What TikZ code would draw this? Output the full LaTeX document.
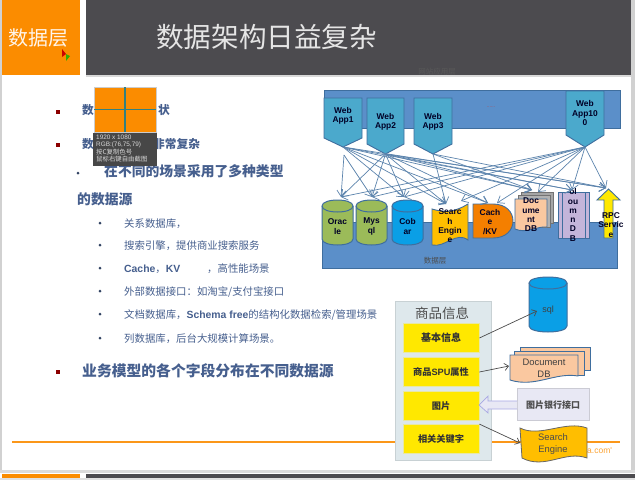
\documentclass[tikz,border=0pt]{standalone}
\usepackage{fontspec}
\setmainfont{Noto Sans CJK SC}
\newfontfamily\lat{Liberation Sans}
\usetikzlibrary{arrows.meta,calc}
\definecolor{hdr}{HTML}{4C4B4F}
\definecolor{org}{HTML}{FB8C00}
\definecolor{txt}{HTML}{465F8E}
\definecolor{bandc}{HTML}{5B8FC9}
\definecolor{edge}{HTML}{3F6E9E}
\definecolor{appc}{HTML}{4BA9CC}
\definecolor{grn}{HTML}{9BBB59}
\definecolor{cob}{HTML}{0A9FE6}
\definecolor{srch}{HTML}{FFBE00}
\definecolor{cachec}{HTML}{F47F00}
\definecolor{peach}{HTML}{FAC8A0}
\definecolor{lav}{HTML}{C4B5DA}
\definecolor{panel}{HTML}{DEE8EC}
\definecolor{yel}{HTML}{FFE800}
\definecolor{lavl}{HTML}{E8E8F4}
\tikzset{
  l1/.style={anchor=west,inner sep=0pt,text=txt,font=\bfseries\fontsize{13.8}{16}\selectfont},
  l1s/.style={anchor=west,inner sep=0pt,text=txt,font=\bfseries\fontsize{11.7}{15}\selectfont},
  l3/.style={anchor=west,inner sep=0pt,text=txt,font=\fontsize{10.4}{13}\selectfont},
  app/.style={draw=edge,line width=.9pt,fill=appc},
  lab/.style={align=center,inner sep=0pt,font=\lat\bfseries\fontsize{8.4}{9.3}\selectfont,text=black!85!blue},
  flow/.style={draw=edge!85!white,line width=.7pt,-{Straight Barb[length=6pt,width=9pt]}},
  blk/.style={draw=black!70,line width=.7pt,-{Straight Barb[length=4pt,width=7pt]}},
  ylbox/.style={draw=panel!70!yel,line width=.8pt,fill=yel,minimum width=76pt,minimum height=29pt,inner sep=0pt,font=\bfseries\fontsize{10}{12}\selectfont,text=black!80},
  tip/.style={inner sep=0pt,anchor=west,text=white!85!black,font=\fontsize{6.4}{7}\selectfont},
  sbul/.style={fill=red!55!black,minimum size=4pt,inner sep=0pt},
  dbul/.style={circle,fill=txt!70!black,minimum size=3pt,inner sep=0pt}
}
% name, x1, x2, y top, shoulder y, tip y, label
\newcommand{\appshape}[7]{%
  \draw[app] (#2,#4) -- (#3,#4) -- (#3,#5) -- ({(#2+#3)/2},#6) -- (#2,#5) -- cycle;
  \coordinate (#1-tip) at ({(#2+#3)/2},#6);
  \node[lab] (#1) at ({(#2+#3)/2},{#5-22}) {#7};}
% name, x1, x2, y1, y2, fill, label
\newcommand{\cyl}[7]{%
  \draw[edge,line width=1pt,fill=#6] (#2,{#4+6}) -- (#2,{#5-6}) .. controls (#2,{#5+2}) and (#3,{#5+2}) .. (#3,{#5-6})
     -- (#3,{#4+6}) .. controls (#3,{#4-2}) and (#2,{#4-2}) .. (#2,{#4+6}) -- cycle;
  \draw[edge,line width=1pt] (#2,{#4+6}) .. controls (#2,{#4+14}) and (#3,{#4+14}) .. (#3,{#4+6});
  \node[lab] (#1) at ({(#2+#3)/2},{(#4+#5)/2+4}) {#7};}
\begin{document}
\begin{tikzpicture}[x=1pt,y=-1pt]
\useasboundingbox (0,0) rectangle (635,480);
\fill[white] (0,0) rectangle (635,480);
\fill[black!18] (0,0) rectangle (2,470);
\fill[black!18] (631,0) rectangle (635,470);
\fill[black!14] (0,470) rectangle (635,473);
\fill[black!12] (0,478) rectangle (635,480);
% header
\fill[org] (2,0) rectangle (80,75);
\fill[hdr] (86,0) rectangle (631,75);
\fill[black!15] (86,75) rectangle (631,77);
\node[inner sep=0pt,text=white!92!orange,font=\fontsize{20}{24}\selectfont] (side) at (39,38) {数据层};
\node[inner sep=0pt,anchor=west,text=white!90!black,font=\fontsize{27.6}{32}\selectfont] (title) at (156,37) {数据架构日益复杂};
\fill[red!80!black] (62,49) -- (62,57) -- (66,54) -- cycle;
\fill[green!60!black!80!yellow] (66,54) -- (70,56) -- (66,61) -- cycle;
% bullets
\node[sbul] (b1) at (58,112) {};
\node[sbul] (b2) at (58,145) {};
\node[sbul] (b3) at (58,372) {};
\node[l1s] (t1a) at (82,110.5) {数};
\node[l1s] (t1b) at (158,110.5) {状};
\node[l1s] (t2a) at (82,144.5) {数};
\node[l1s] (t2b) at (153,144.5) {非常复杂};
\node[dbul] (d0) at (78,173) {};
\node[l1] (t3) at (104,171) {在不同的场景采用了多种类型};
\node[l1] (t4) at (77,199) {的数据源};
\foreach \n/\y in {a/223,b/245,c/268,d/291,e/314,f/338}{\node[dbul] (d\n) at (100,\y) {};}
\node[l3] (s1) at (124,224) {关系数据库，};
\node[l3] (s2) at (124,246) {搜索引擎，提供商业搜索服务};
\node[l3] (s3) at (124,269) {{\lat\bfseries Cache}，{\lat\bfseries KV}};
\node[l3] (s3b) at (207,269) {，高性能场景};
\node[l3] (s4) at (124,292) {外部数据接口：如淘宝/支付宝接口};
\node[l3] (s5) at (124,315) {文档数据库，{\lat\bfseries Schema free}的结构化数据检索/管理场景};
\node[l3] (s6) at (124,339) {列数据库，后台大规模计算场景。};
\node[l1,font=\bfseries\fontsize{14.8}{17}\selectfont] (t5) at (82,371) {业务模型的各个字段分布在不同数据源};
% tooltip
\fill[org] (94,87) rectangle (156,132);
\draw[black!20,line width=.6pt] (94,87) rectangle (156,132);
\draw[teal!60!gray,line width=1.2pt] (125,87) -- (125,132) (94,109.5) -- (156,109.5);
\fill[black!72] (93,133) rectangle (157,166);
\node[tip] (c1) at (96,137.5) {{\lat 1920 x 1080}};
\node[tip] (c2) at (96,144.5) {{\lat RGB:(76,75,79)}};
\node[tip] (c3) at (96,152) {按C复制色号};
\node[tip] (c4) at (96,159.5) {鼠标右键自由截图};
% architecture
\draw[edge,line width=.8pt,fill=bandc] (324,90) rectangle (620,128);
\draw[edge,line width=.8pt,fill=bandc] (322,222) rectangle (617,268);
\node[inner sep=0pt,text=black!65,font=\fontsize{7.5}{9}\selectfont] (lt) at (437,72) {网站应用层};
\node[inner sep=0pt,text=black!70,font=\fontsize{7.5}{9}\selectfont] (ld) at (435,261) {数据层};
\node[inner sep=0pt,text=red!50!gray,font=\fontsize{5}{6}\selectfont] (ldots) at (491,107) {......};
\appshape{app1}{324}{362}{98}{138}{147}{Web\\App1}
\appshape{app2}{367}{404}{98}{144}{154}{Web\\App2}
\appshape{app3}{414}{452}{98}{144}{154}{Web\\App3}
\appshape{app100}{566}{604}{91}{135}{147}{Web\\App10\\0}
\cyl{oracle}{322}{353}{200}{245}{grn}{Orac\\le}
\cyl{mysql}{356}{387}{200}{245}{grn}{Mys\\ql}
\cyl{cobar}{392}{423}{200}{245}{cob}{Cob\\ar}
% search engine
\draw[edge,line width=.9pt,fill=srch] (432,209) .. controls (445,213) and (455,212) .. (468,204) -- (468,240) .. controls (456,231) and (445,248) .. (432,245) -- cycle;
\node[lab] (search) at (450,226) {Searc\\h\\Engin\\e};
% cache
\draw[edge,line width=.9pt,fill=cachec] (473,204) -- (493,204) .. controls (506,204) and (513,212) .. (513,221) .. controls (513,230) and (506,238) .. (493,238) -- (473,238) -- cycle;
\node[lab] (cache) at (490,222) {Cach\\e\\/KV};
% document
\draw[black!55,line width=.8pt,fill=black!35] (521,192) rectangle (553,223);
\draw[black!55,line width=.8pt,fill=black!30] (518,195) rectangle (550,227);
\draw[edge,line width=.9pt,fill=peach] (515,199) -- (547,199) -- (547,227) .. controls (537,226) and (526,234) .. (515,229) -- cycle;
\node[lab] (doc) at (531,215) {Doc\\ume\\nt\\DB};
% column db
\draw[edge,line width=.9pt,fill=lav] (558,192) rectangle (589,238);
\draw[edge,line width=.9pt] (562,192) -- (562,238) (585,192) -- (585,238);
\node[lab] (col) at (573,215) {ol\\ou\\m\\n\\D\\B};
% rpc
\draw[edge,line width=.9pt,fill=yel] (597,200) -- (608.5,189) -- (620,200) -- (613,200) -- (613,238) -- (604,238) -- (604,200) -- cycle;
\node[lab] (rpc) at (611,225) {RPC\\Servic\\e};
% connector targets
\coordinate (free) at (344,155);
\coordinate (to-ora) at (341,197);
\coordinate (to-my) at (372,197);
\coordinate (to-cob) at (404,197);
\coordinate (to-sea) at (446,204);
\coordinate (to-sea2) at (461,201);
\coordinate (to-cac) at (488,203);
\coordinate (to-cac2) at (497,203);
\coordinate (to-doc) at (532,190);
\coordinate (to-doc2) at (538,192);
\coordinate (to-col) at (572,190);
\coordinate (to-rpc) at (606,188);
\foreach \t in {cob,sea,cac,doc,col,rpc}{\draw[flow] (app1-tip) -- (to-\t);}
\foreach \t in {ora,my,cob,sea,cac,doc,col,rpc}{\draw[flow] (app2-tip) -- (to-\t);}
\foreach \t in {sea,doc,rpc}{\draw[flow] (app3-tip) -- (to-\t);}
\foreach \t in {ora,my,cob,sea2,cac2,doc2,col,rpc}{\draw[flow] (app100-tip) -- (to-\t);}
\draw[flow] (free) -- (to-ora);
\draw[flow] (free) -- (to-my);
% footer
\draw[org!90!white,line width=1.3pt] (12,442) -- (620,442);
\node[inner sep=0pt,anchor=west,text=org!80!white,font=\lat\fontsize{8.5}{10}\selectfont] (url) at (587,451) {a.com'};
\fill[org] (2,473.5) rectangle (80,478);
\fill[hdr] (86,473.5) rectangle (635,478);
% product panel
\draw[black!10!panel,line width=.8pt,fill=panel] (395,301) rectangle (491,460);
\node[inner sep=0pt,text=black!70,font=\fontsize{13.5}{15}\selectfont] (ptitle) at (442,313) {商品信息};
\node[ylbox] (p1) at (441,338) {基本信息};
\node[ylbox,font=\bfseries\fontsize{9.2}{11}\selectfont] (p2) at (441,372) {商品{\lat\bfseries SPU}属性};
\node[ylbox,font=\bfseries\fontsize{9.2}{11}\selectfont] (p3) at (441,406) {图片};
\node[ylbox,font=\bfseries\fontsize{9.2}{11}\selectfont] (p4) at (441,439) {相关关键字};
% sql
\cyl{sql}{529}{567}{277}{332}{cob}{}
\node[inner sep=0pt,text=black!75,font=\lat\fontsize{9}{11}\selectfont] (sqlt) at (548,310) {sql};
\coordinate (sql-in) at (537,311);
% document db
\draw[edge,line width=.9pt,fill=peach] (520,347) rectangle (590,370);
\draw[edge,line width=.9pt,fill=peach] (514,351) rectangle (584,375);
\draw[edge,line width=.9pt,fill=peach] (510,355) -- (578,355) -- (578,376) .. controls (555,372) and (535,388) .. (510,380) -- cycle;
\node[lab,font=\lat\fontsize{9.4}{12}\selectfont,text=black!75] (ddb) at (544,368) {Document\\DB};
\coordinate (ddb-in) at (509,366);
% image interface
\draw[lavl!85!black!90!white,line width=.6pt,fill=lavl] (517,388) rectangle (589,420);
\node[inner sep=0pt,text=black!70,font=\bfseries\fontsize{9}{11}\selectfont] (img) at (553,405) {图片银行接口};
\draw[black!10!lavl!80!blue,line width=.7pt,fill=lavl] (517,401) -- (488,401) -- (488,396) -- (479,405) -- (488,413) -- (488,409) -- (517,409);
% search engine 2
\draw[black!60,line width=.8pt,fill=srch] (520,428) .. controls (540,438) and (565,420) .. (587,428) -- (587,458) .. controls (565,450) and (545,470) .. (522,458) -- cycle;
\node[lab,font=\lat\fontsize{9.4}{12.5}\selectfont,text=black!70] (se2) at (553,444) {Search\\Engine};
\coordinate (se2-in) at (520,443);
\draw[blk] (p1.east) -- (sql-in);
\draw[blk] (p2.east) -- (ddb-in);
\draw[blk] (p4.north east) -- (se2-in);
\end{tikzpicture}
\end{document}
